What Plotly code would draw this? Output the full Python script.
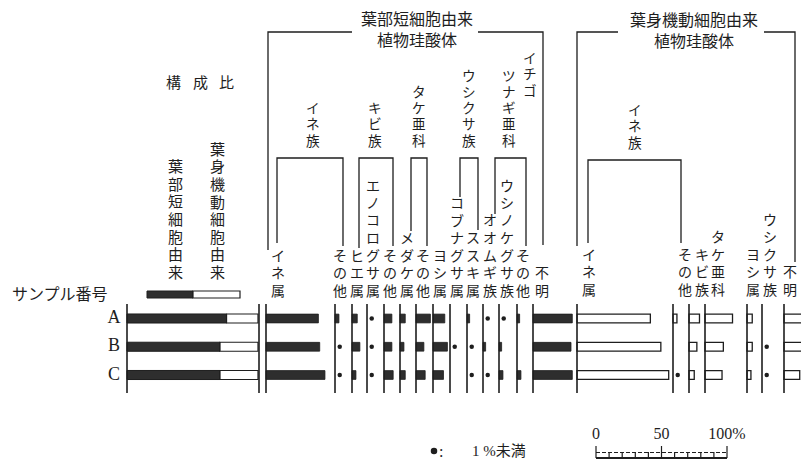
import plotly.graph_objects as go

W, H = 801, 462
K = 1.31            # pixels per percent
ROW0, ROWSTEP = 318.5, 28.25
JP = "Liberation Serif, Noto Sans CJK JP"
SERIF = "Liberation Serif"
INK = "#1e1e1e"
DARK = "#2e2e2e"

# ---------------- data ----------------
samples = ["A", "B", "C"]
# composition ratio (%): short-cell derived part (rest = motor-cell derived)
comp_short = [76, 71, 71]

short_labels = ["イネ属", "その他", "ヒエ属", "エノコログサ属", "その他", "メダケ属", "その他",
                "ヨシ属", "コブナグサ属", "ススキ属", "オオムギ族", "ウシノケグサ族", "その他", "不明"]
# % values; 0.5 = less than 1% (dot), 0 = not detected
short_A = [40, 3, 4, 0.5, 6, 4, 11, 9, 0, 2, 0.5, 0.5, 2, 30]
short_B = [41, 0.5, 6, 0.5, 6, 3, 6, 11, 0.5, 0.5, 2, 2, 0, 29]
short_C = [45, 0.5, 3, 0.5, 7, 4, 7, 8, 0, 0.5, 0.5, 3, 3, 30]

motor_labels = ["イネ属", "その他", "キビ族", "タケ亜科", "ヨシ属", "ウシクサ族", "不明"]
motor_A = [56, 3, 8, 21, 4, 0, 14]
motor_B = [64, 0, 6, 14, 4, 0.5, 14]
motor_C = [70, 0.5, 4, 13, 3, 0.5, 12]

group_labels = ["イネ族", "キビ族", "タケ亜科", "ウシクサ族", "ツナギ亜科", "イチゴ"]
scale_ticks = [0, 50, 100]
scale_ticktext = ["0", "50", "100%"]

# ---------------- layout positions (pixels) ----------------
comp_left, comp_right = 127, 259
short_base = [266, 335, 352, 367, 384, 400, 416, 433, 450, 467, 483, 499, 517, 533]
motor_base = [577, 673, 689, 705, 747, 762, 784]
short_lab_x = [278, 340, 357, 373, 390, 407, 423, 440, 457, 473, 490, 507, 523, 542]
motor_lab_x = [589, 685, 702, 718, 753, 770, 790]
scale_left = 596


def ux(px):
    return px / K


def ry(py):
    return (py - ROW0) / ROWSTEP


def px_(x):
    return x / W


def py_(y):
    return 1 - y / H


fig = go.Figure()

# composition bars
fig.add_trace(go.Bar(orientation="h", y=list(range(3)), x=comp_short,
                     base=[ux(comp_left)] * 3, width=0.32,
                     marker=dict(color=DARK, line=dict(color=INK, width=1)),
                     showlegend=False, hoverinfo="skip"))
fig.add_trace(go.Bar(orientation="h", y=list(range(3)), x=[100 - v for v in comp_short],
                     base=[ux(comp_left) + v for v in comp_short], width=0.32,
                     marker=dict(color="white", line=dict(color=INK, width=1.2)),
                     showlegend=False, hoverinfo="skip"))


def add_group(series, bases, filled):
    bx, by, bb, dx, dy = [], [], [], [], []
    for i, vals in enumerate(series):
        for j, v in enumerate(vals):
            if v >= 1:
                bx.append(v); by.append(i); bb.append(ux(bases[j]))
            elif v > 0:
                dx.append(ux(bases[j]) + 3.6); dy.append(i)
    fig.add_trace(go.Bar(orientation="h", y=by, x=bx, base=bb, width=0.31,
                         marker=dict(color=DARK if filled else "white",
                                     line=dict(color=INK, width=0.8 if filled else 1.3)),
                         showlegend=False, hoverinfo="skip"))
    fig.add_trace(go.Scatter(x=dx, y=dy, mode="markers",
                             marker=dict(size=4.5, color=INK), showlegend=False,
                             hoverinfo="skip"))


add_group([short_A, short_B, short_C], short_base, True)
add_group([motor_A, motor_B, motor_C], motor_base, False)

# column base lines
lx, ly = [], []
for b in [comp_left, comp_right] + short_base + motor_base:
    lx += [ux(b), ux(b), None]
    ly += [ry(304), ry(393), None]
fig.add_trace(go.Scatter(x=lx, y=ly, mode="lines", line=dict(color=INK, width=1.6),
                         showlegend=False, hoverinfo="skip"))

# sample labels
fig.add_trace(go.Scatter(x=[ux(114)] * 3, y=list(range(3)), mode="text", text=samples,
                         textfont=dict(family=SERIF, size=18, color=INK),
                         showlegend=False, hoverinfo="skip"))

# legend symbol for "<1%"
fig.add_trace(go.Scatter(x=[ux(434)], y=[ry(451)], mode="markers",
                         marker=dict(size=6.5, color=INK), showlegend=False, hoverinfo="skip"))

# scale bar (ruler) using the same percent scale
s0 = ux(scale_left)
rx, ryy = [], []
for t in range(0, 101, 10):
    top = 446 if t in scale_ticks else 452
    rx += [s0 + t, s0 + t, None]
    ryy += [ry(top), ry(458), None]
fig.add_trace(go.Scatter(x=rx, y=ryy, mode="lines", line=dict(color=INK, width=1.2),
                         showlegend=False, hoverinfo="skip"))
fig.add_trace(go.Scatter(x=[s0, s0 + 100], y=[ry(458), ry(458)], mode="lines",
                         line=dict(color=INK, width=2.2), showlegend=False, hoverinfo="skip"))
fig.add_trace(go.Scatter(x=[s0, s0 + 100], y=[ry(452.5), ry(452.5)], mode="lines",
                         line=dict(color=INK, width=1, dash="4px,2px"), showlegend=False,
                         hoverinfo="skip"))
fig.add_trace(go.Scatter(x=[s0 + t for t in scale_ticks], y=[ry(435)] * 3, mode="text",
                         text=scale_ticktext, textfont=dict(family=SERIF, size=16, color=INK),
                         showlegend=False, hoverinfo="skip"))

# ---------------- annotations / decoration ----------------
ann = []


def text(s, x, y, size=14, family=JP):
    ann.append(dict(x=px_(x), y=py_(y), xref="paper", yref="paper", text=s,
                    showarrow=False, xanchor="center", yanchor="middle", borderpad=0,
                    font=dict(size=size, family=family, color=INK)))


def vtext(s, x, y_last, step=17.5, size=14):
    # vertical (top-to-bottom) Japanese text, one character per row
    n = len(s)
    for i, ch in enumerate(s):
        text(ch, x, y_last - (n - 1 - i) * step, size)


for s, x in zip(short_labels, short_lab_x):
    vtext(s, x, 291, 17.5, 14)
for s, x in zip(motor_labels, motor_lab_x):
    vtext(s, x, 290, 17.5, 14)

gx = [313, 375, 419, 469, 509, 530]
gy = [141, 141, 141, 141, 141, 91]
for s, x, y in zip(group_labels, gx, gy):
    vtext(s, x, y, 16.2, 13.6)
vtext("イネ族", 635, 143, 16.2, 13.6)

text("葉部短細胞由来<br>植物珪酸体", 417, 30.5, 16)
text("葉身機動細胞由来<br>植物珪酸体", 694, 31.5, 16)

text("構", 173, 83, 15); text("成", 200, 83, 15); text("比", 226, 83, 15)
vtext("葉部短細胞由来", 175, 273, 17.7, 15)
vtext("葉身機動細胞由来", 217, 273, 17.6, 15)
text("サンプル番号", 60, 294, 16)
text(":", 441, 451, 16, SERIF)
text("1 %未満", 499, 451, 15)

shapes = []


def poly(pts, w=1.3):
    d = "M " + " L ".join(f"{px_(x):.5f},{py_(y):.5f}" for x, y in pts)
    shapes.append(dict(type="path", path=d, xref="paper", yref="paper",
                       line=dict(color=INK, width=w)))


# outer brackets
poly([(268, 250), (268, 32), (352, 32)])
poly([(478, 32), (543, 32), (543, 245)])
poly([(577, 246), (577, 32), (618, 32)])
poly([(764, 32), (795, 32), (795, 262)])
# sub brackets
poly([(277, 243), (277, 158), (343, 158), (343, 246)])
poly([(359, 248), (359, 158), (393, 158), (393, 246)])
poly([(411, 231), (411, 158), (427, 158), (427, 246)])
poly([(460, 197), (460, 158), (478, 158), (478, 230)])
poly([(495, 214), (495, 158), (526, 158), (526, 246)])
poly([(588, 243), (588, 160), (681, 160), (681, 243)])

# composition legend swatch
shapes.append(dict(type="rect", xref="paper", yref="paper", x0=px_(147), x1=px_(193),
                   y0=py_(298), y1=py_(291), fillcolor=DARK, line=dict(color=INK, width=1)))
shapes.append(dict(type="rect", xref="paper", yref="paper", x0=px_(193), x1=px_(240),
                   y0=py_(298), y1=py_(291), fillcolor="white", line=dict(color=INK, width=1.2)))

fig.update_layout(
    width=W, height=H, margin=dict(l=0, r=0, t=0, b=0),
    paper_bgcolor="white", plot_bgcolor="white",
    barmode="overlay", showlegend=False,
    xaxis=dict(range=[0, W / K], visible=False, fixedrange=True),
    yaxis=dict(range=[ry(H), ry(0)], visible=False, fixedrange=True),
    annotations=ann, shapes=shapes,
)

fig.write_html("out.html", config={"displayModeBar": False},
               post_script="document.body.style.margin='0';document.body.style.overflow='hidden';")
